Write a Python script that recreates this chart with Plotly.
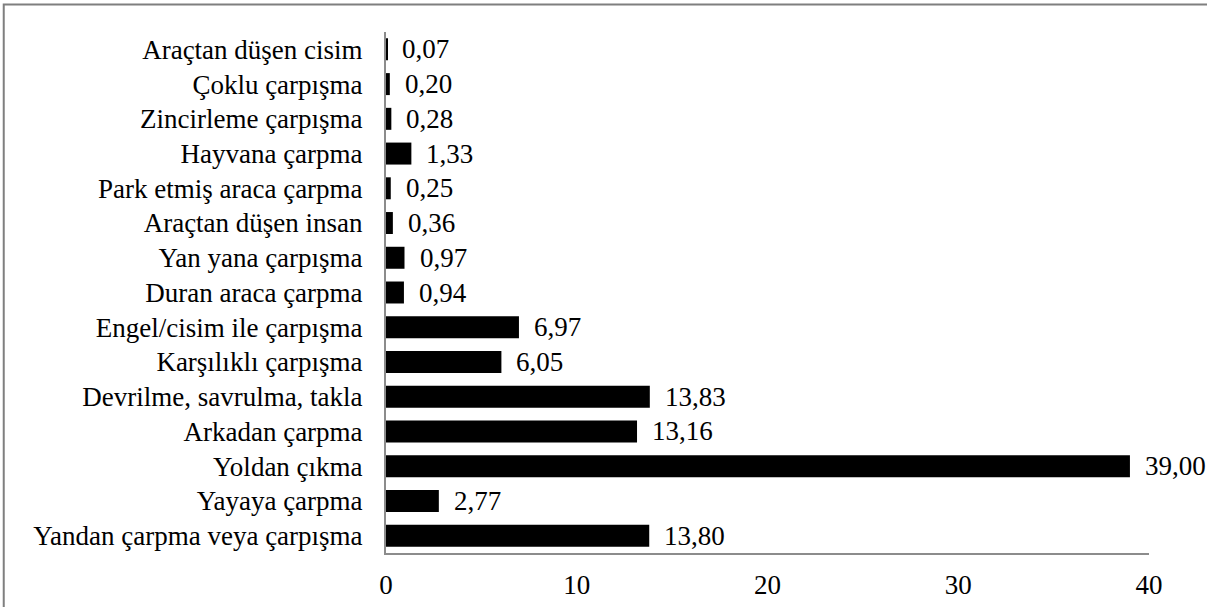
import plotly.graph_objects as go

# Accident types (top to bottom) and their shares (%)
categories = [
    "Araçtan düşen cisim",
    "Çoklu çarpışma",
    "Zincirleme çarpışma",
    "Hayvana çarpma",
    "Park etmiş araca çarpma",
    "Araçtan düşen insan",
    "Yan yana çarpışma",
    "Duran araca çarpma",
    "Engel/cisim ile çarpışma",
    "Karşılıklı çarpışma",
    "Devrilme, savrulma, takla",
    "Arkadan çarpma",
    "Yoldan çıkma",
    "Yayaya çarpma",
    "Yandan çarpma veya çarpışma",
]
values = [0.07, 0.20, 0.28, 1.33, 0.25, 0.36, 0.97, 0.94, 6.97, 6.05, 13.83, 13.16, 39.00, 2.77, 13.80]
x_ticks = [0, 10, 20, 30, 40]

FONT = "Liberation Serif"
FONT_SIZE = 27
AXIS_GRAY = "#8c8c8c"


def fmt(v):
    return f"{v:.2f}".replace(".", ",")


fig = go.Figure(
    go.Bar(
        x=values,
        y=categories,
        orientation="h",
        marker=dict(color="black", line=dict(width=0)),
        hoverinfo="skip",
    )
)

# value labels just past the end of each bar
for cat, v in zip(categories, values):
    fig.add_annotation(
        x=v, y=cat, text=fmt(v), showarrow=False,
        xanchor="left", yanchor="middle", xshift=13,
        font=dict(family=FONT, size=FONT_SIZE, color="black"),
    )

# outer frame (only top and left edges fall inside the page)
fig.add_shape(
    type="rect", xref="paper", yref="paper",
    x0=-0.501, x1=2.0, y0=-1.0, y1=1.053,
    line=dict(color="#7f7f7f", width=2), fillcolor="rgba(0,0,0,0)",
)

fig.update_layout(
    width=1207, height=607,
    margin=dict(l=385.5, r=58, t=31.8, b=53.6, autoexpand=False),
    paper_bgcolor="white", plot_bgcolor="white",
    bargap=0.367,
    showlegend=False,
    font=dict(family=FONT, size=FONT_SIZE, color="black"),
    xaxis=dict(
        range=[0, 40], tickvals=x_ticks, ticktext=[str(t) for t in x_ticks],
        showgrid=False, zeroline=False, automargin=False,
        showline=True, linecolor=AXIS_GRAY, linewidth=2,
        ticks="", ticklabelstandoff=7,
        tickfont=dict(family=FONT, size=FONT_SIZE, color="black"),
    ),
    yaxis=dict(
        autorange="reversed", automargin=False,
        showgrid=False, zeroline=False,
        showline=True, linecolor=AXIS_GRAY, linewidth=2,
        ticks="", ticklabelstandoff=16,
        tickfont=dict(family=FONT, size=FONT_SIZE, color="black"),
    ),
)

fig.write_html("out.html")
